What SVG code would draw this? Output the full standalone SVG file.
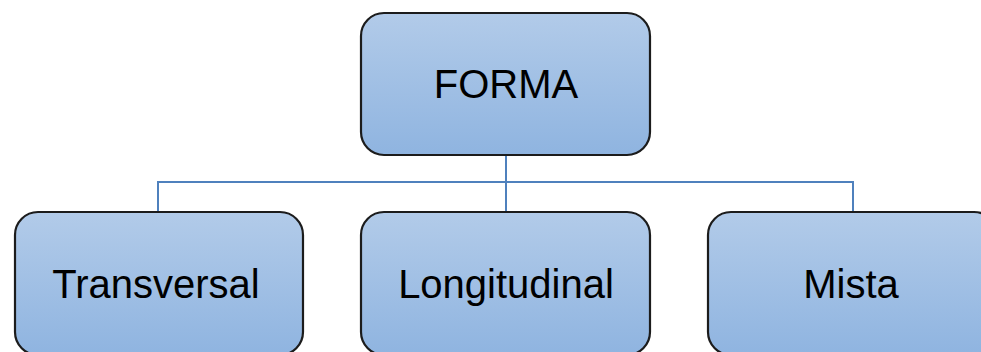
<svg xmlns="http://www.w3.org/2000/svg" width="981" height="352" viewBox="0 0 981 352">
<style>
.box{fill:url(#g);stroke:#1c1c1c;stroke-width:2.2}
.lbl{font-family:"Liberation Sans",Arial,sans-serif;font-size:40px;fill:#000;text-anchor:middle}
.con{fill:none;stroke:#4f81bd;stroke-width:2}
</style>
<defs>
<linearGradient id="g" x1="0" y1="0" x2="0" y2="1">
<stop offset="0" stop-color="#b2cbe9"/>
<stop offset="1" stop-color="#8fb4e0"/>
</linearGradient>
</defs>
<rect width="981" height="352" fill="#fff"/>
<g id="connectors">
<path class="con" d="M506 155 V182 M158 212 V182 H853 V212 M506 182 V212"/>
</g>
<g id="forma">
<rect class="box" x="361" y="13" width="289" height="142" rx="23"/>
<text class="lbl" x="506" y="98">FORMA</text>
</g>
<g id="transversal">
<rect class="box" x="15" y="212" width="288" height="143" rx="23"/>
<text class="lbl" x="156" y="298">Transversal</text>
</g>
<g id="longitudinal">
<rect class="box" x="361" y="212" width="289" height="143" rx="23"/>
<text class="lbl" x="506" y="298">Longitudinal</text>
</g>
<g id="mista">
<rect class="box" x="708" y="212" width="289" height="143" rx="23"/>
<text class="lbl" x="851" y="298">Mista</text>
</g>
</svg>
